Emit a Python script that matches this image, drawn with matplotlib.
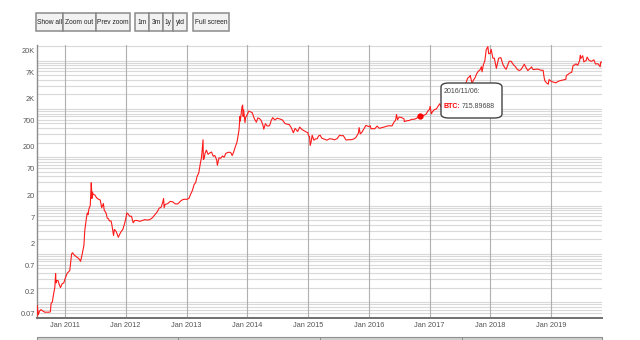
import matplotlib
matplotlib.use("Agg")
import matplotlib.pyplot as plt
from matplotlib.patches import Rectangle, FancyBboxPatch
from matplotlib.text import Annotation
from matplotlib.transforms import ScaledTranslation
import pandas as pd

# BTC close price (USD), sampled dates
dates = [
    "2010-07-17", "2010-07-18", "2010-07-20", "2010-07-25", "2010-08-01", "2010-08-10", "2010-08-20",
    "2010-09-01", "2010-09-15", "2010-09-28", "2010-10-05", "2010-10-10", "2010-10-17", "2010-10-25",
    "2010-11-01", "2010-11-06", "2010-11-08", "2010-11-12", "2010-11-20", "2010-11-28", "2010-12-05",
    "2010-12-15", "2010-12-25",
    "2011-01-01", "2011-01-15", "2011-01-30", "2011-02-05", "2011-02-10", "2011-02-16", "2011-02-25",
    "2011-03-05", "2011-03-15", "2011-03-25", "2011-04-05", "2011-04-15", "2011-04-25", "2011-04-30",
    "2011-05-10", "2011-05-15", "2011-05-20", "2011-05-25", "2011-06-02", "2011-06-08", "2011-06-10",
    "2011-06-12", "2011-06-15", "2011-06-20", "2011-06-30", "2011-07-10", "2011-07-20", "2011-08-01",
    "2011-08-10", "2011-08-20", "2011-08-25", "2011-09-05", "2011-09-12", "2011-09-20", "2011-09-25",
    "2011-10-05", "2011-10-10", "2011-10-20", "2011-10-25", "2011-11-05", "2011-11-18", "2011-11-25",
    "2011-12-05", "2011-12-15", "2011-12-25",
    "2012-01-01", "2012-01-08", "2012-01-15", "2012-01-25", "2012-02-05", "2012-02-15", "2012-02-25",
    "2012-03-10", "2012-03-25", "2012-04-10", "2012-04-25", "2012-05-10", "2012-05-25", "2012-06-10",
    "2012-06-25", "2012-07-10", "2012-07-20", "2012-08-01", "2012-08-10", "2012-08-16", "2012-08-19",
    "2012-08-25", "2012-09-10", "2012-09-25", "2012-10-10", "2012-10-25", "2012-11-10", "2012-11-25",
    "2012-12-10", "2012-12-25",
    "2013-01-01", "2013-01-15", "2013-01-25", "2013-02-05", "2013-02-15", "2013-02-25", "2013-03-05",
    "2013-03-15", "2013-03-25", "2013-04-01", "2013-04-05", "2013-04-10", "2013-04-11", "2013-04-12",
    "2013-04-17", "2013-04-22", "2013-04-30", "2013-05-10", "2013-05-20", "2013-05-31", "2013-06-10",
    "2013-06-20", "2013-07-01", "2013-07-05", "2013-07-15", "2013-07-25", "2013-08-05", "2013-08-15",
    "2013-08-25", "2013-09-05", "2013-09-15", "2013-09-25", "2013-10-02", "2013-10-10", "2013-10-20",
    "2013-10-31", "2013-11-07", "2013-11-12", "2013-11-18", "2013-11-20", "2013-11-25", "2013-11-30",
    "2013-12-04", "2013-12-07", "2013-12-10", "2013-12-18", "2013-12-22", "2013-12-31",
    "2014-01-10", "2014-01-20", "2014-01-31", "2014-02-07", "2014-02-15", "2014-02-25", "2014-03-05",
    "2014-03-15", "2014-03-25", "2014-04-05", "2014-04-10", "2014-04-20", "2014-05-01", "2014-05-15",
    "2014-05-25", "2014-06-03", "2014-06-15", "2014-06-30", "2014-07-15", "2014-07-31", "2014-08-15",
    "2014-08-31", "2014-09-10", "2014-09-22", "2014-10-05", "2014-10-15", "2014-10-31", "2014-11-12",
    "2014-11-25", "2014-12-10", "2014-12-31",
    "2015-01-05", "2015-01-10", "2015-01-14", "2015-01-20", "2015-01-26", "2015-02-05", "2015-02-15",
    "2015-02-25", "2015-03-05", "2015-03-15", "2015-03-25", "2015-04-10", "2015-04-25", "2015-05-10",
    "2015-05-25", "2015-06-10", "2015-06-25", "2015-07-10", "2015-07-20", "2015-08-01", "2015-08-18",
    "2015-08-31", "2015-09-15", "2015-09-30", "2015-10-15", "2015-10-31", "2015-11-04", "2015-11-11",
    "2015-11-20", "2015-12-01", "2015-12-15", "2015-12-31",
    "2016-01-10", "2016-01-15", "2016-01-25", "2016-02-05", "2016-02-20", "2016-03-05", "2016-03-20",
    "2016-04-05", "2016-04-20", "2016-05-05", "2016-05-20", "2016-06-01", "2016-06-10", "2016-06-16",
    "2016-06-22", "2016-07-01", "2016-07-15", "2016-07-31", "2016-08-02", "2016-08-15", "2016-08-31",
    "2016-09-15", "2016-09-30", "2016-10-15", "2016-10-31", "2016-11-06", "2016-11-15", "2016-11-30",
    "2016-12-10", "2016-12-23", "2016-12-31",
    "2017-01-04", "2017-01-11", "2017-01-20", "2017-01-31", "2017-02-10", "2017-02-23", "2017-03-03",
    "2017-03-18", "2017-03-31", "2017-04-15", "2017-04-30", "2017-05-10", "2017-05-25", "2017-05-27",
    "2017-06-12", "2017-06-15", "2017-06-30", "2017-07-16", "2017-07-25", "2017-08-05", "2017-08-17",
    "2017-08-31", "2017-09-02", "2017-09-14", "2017-09-20", "2017-09-30", "2017-10-12", "2017-10-20",
    "2017-10-31", "2017-11-08", "2017-11-12", "2017-11-20", "2017-11-29", "2017-12-07", "2017-12-17",
    "2017-12-22", "2017-12-31",
    "2018-01-06", "2018-01-16", "2018-01-25", "2018-02-06", "2018-02-20", "2018-03-05", "2018-03-18",
    "2018-03-31", "2018-04-06", "2018-04-24", "2018-05-05", "2018-05-20", "2018-05-31", "2018-06-12",
    "2018-06-24", "2018-07-05", "2018-07-24", "2018-08-05", "2018-08-14", "2018-08-31", "2018-09-05",
    "2018-09-15", "2018-09-30", "2018-10-15", "2018-10-31", "2018-11-14", "2018-11-20", "2018-11-25",
    "2018-12-07", "2018-12-15", "2018-12-20", "2018-12-31",
    "2019-01-10", "2019-01-20", "2019-01-31", "2019-02-08", "2019-02-24", "2019-03-10", "2019-03-31",
    "2019-04-02", "2019-04-23", "2019-05-05", "2019-05-14", "2019-05-20", "2019-05-31", "2019-06-10",
    "2019-06-21", "2019-06-26", "2019-06-28", "2019-07-10", "2019-07-17", "2019-07-31", "2019-08-06",
    "2019-08-15", "2019-08-31", "2019-09-15", "2019-09-25", "2019-10-10", "2019-10-23", "2019-10-26",
    "2019-11-03",
]
btc = [
    0.05, 0.086, 0.075, 0.055, 0.065, 0.07, 0.066,
    0.062, 0.062, 0.062, 0.063, 0.095, 0.10, 0.15,
    0.20, 0.39, 0.25, 0.28, 0.28, 0.23, 0.20,
    0.24, 0.25,
    0.30, 0.40, 0.45, 0.70, 1.00, 1.05, 0.95,
    0.90, 0.85, 0.80, 0.70, 1.00, 1.50, 3.0,
    5.5, 7.0, 6.5, 8.5, 10, 29.6, 22,
    14, 19, 17, 16.5, 14.5, 13.6, 13.0,
    9, 11, 8.0, 7.0, 5.5, 5.3, 4.8,
    4.8, 4.0, 2.4, 3.2, 2.9, 2.2, 2.5,
    2.9, 3.2, 4.2,
    5.2, 7.0, 6.7, 6.0, 6.0, 4.4, 4.9,
    4.9, 4.7, 4.9, 5.1, 5.0, 5.1, 5.6,
    6.5, 7.5, 8.8, 9.2, 11.5, 14.0, 9.0,
    10.5, 11.0, 12.2, 11.9, 10.8, 10.8, 12.3,
    13.3, 13.5,
    13.4, 14.0, 17.0, 20.5, 27, 30, 40,
    47, 75, 100, 145, 230, 120, 90,
    95, 120, 140, 115, 122, 128, 105,
    108, 88, 68, 97, 95, 106, 100,
    120, 125, 127, 123, 108, 125, 160,
    205, 290, 360, 700, 560, 800, 1100,
    1200, 700, 950, 520, 660, 755,
    900, 870, 830, 700, 600, 530, 650,
    630, 580, 460, 380, 495, 440, 450,
    580, 660, 590, 640, 620, 590, 500,
    480, 475, 410, 320, 395, 340, 420,
    375, 350, 320,
    275, 270, 175, 210, 285, 225, 240,
    240, 275, 285, 247, 235, 225, 241,
    238, 229, 243, 285, 278, 280, 226,
    230, 230, 236, 254, 315, 410, 305,
    325, 378, 455, 430,
    448, 385, 392, 385, 440, 395, 410,
    423, 441, 448, 443, 536, 577, 766,
    595, 676, 664, 620, 547, 566, 575,
    608, 609, 640, 700, 715.89688, 713, 743,
    774, 920, 964,
    1130, 790, 895, 970, 995, 1170, 1280,
    955, 1080, 1185, 1350, 1750, 2450, 2050,
    2950, 2450, 2480, 1930, 2550, 3220, 4300,
    4700, 4900, 3250, 3900, 4340, 5450, 5990,
    6450, 7450, 5860, 8200, 9900, 16700, 19500,
    13800, 14150,
    17100, 11200, 11200, 6900, 11200, 11500, 8200,
    6900, 6600, 9650, 9700, 8200, 7500, 6550,
    6200, 6550, 8400, 7000, 6200, 7000, 7400,
    6500, 6600, 6650, 6320, 6300, 4500, 3800,
    3400, 3240, 4050, 3750,
    3630, 3540, 3450, 3660, 3830, 3940, 4100,
    4880, 5500, 5750, 8000, 7980, 8550, 7950,
    9900, 12900, 11000, 12600, 9400, 10100, 11800,
    10300, 9600, 10350, 8500, 8600, 7450, 9250,
    9300,
]

highlight_date = "2016-11-06"
highlight_value = 715.89688

ytick_values = [0.07, 0.2, 0.7, 2, 7, 20, 70, 200, 700, 2000, 7000, 20000]
ytick_labels = ["0.07", "0.2", "0.7", "2", "7", "20", "70", "200", "700", "2K", "7K", "20K"]
xtick_years = [2011, 2012, 2013, 2014, 2015, 2016, 2017, 2018, 2019]

button_labels = ["Show all", "Zoom out", "Prev zoom", "1m", "3m", "1y", "ytd", "Full screen"]
button_lefts = [36, 63, 96, 135, 149, 163, 173, 193]
button_widths = [27, 33, 34, 14, 14, 10, 14, 36]

plt.rcParams["font.family"] = ["Liberation Sans", "DejaVu Sans"]

df = pd.DataFrame({"date": pd.to_datetime(dates), "btc": btc})

W, H = 640, 340
fig = plt.figure(figsize=(W / 100, H / 100), dpi=100)
fig.patch.set_facecolor("white")

# plot area, in pixels: x 37..602, y 45..318 from top
ax = fig.add_axes([37 / W, 1 - 318 / H, (602 - 37) / W, (318 - 45) / H])
ax.set_facecolor("white")

ax.set_yscale("log")
ax.set_ylim(0.047, 21000)
ax.set_xlim(pd.Timestamp("2010-07-17"), pd.Timestamp("2019-11-03"))

# log gridlines at every 1..9 x 10^n
grid_vals = [m * 10.0 ** e for e in range(-2, 5) for m in range(1, 10)]
for g in grid_vals:
    if 0.047 < g < 21000:
        ax.axhline(g, color="#d9d9d9", lw=0.8, zorder=1)
for yr in xtick_years:
    ax.axvline(pd.Timestamp(f"{yr}-01-01"), color="#b0b0b0", lw=0.8, zorder=1)

ax.plot(df["date"], df["btc"], color="#ff1a1a", lw=0.8, zorder=3)
ax.plot(pd.Timestamp(highlight_date), highlight_value, "o", color="#ff0000",
        ms=3.5, zorder=4)

ax.yaxis.set_minor_locator(matplotlib.ticker.NullLocator())
ax.set_yticks(ytick_values)
ax.set_yticklabels(ytick_labels)
ax.set_xticks([pd.Timestamp(f"{yr}-01-01") for yr in xtick_years])
ax.set_xticklabels([f"Jan {yr}" for yr in xtick_years])
ax.tick_params(axis="both", length=0, labelsize=5.3, labelcolor="#555555")
ax.tick_params(axis="y", pad=1.5)
ax.tick_params(axis="x", pad=3)
for lbl in ax.get_yticklabels():
    lbl.set_transform(lbl.get_transform() + ScaledTranslation(0, -3 / 72, fig.dpi_scale_trans))

for side in ["top", "right"]:
    ax.spines[side].set_visible(False)
ax.spines["left"].set_color("#8c8c8c")
ax.spines["left"].set_linewidth(1.0)
ax.spines["bottom"].set_color("#707070")
ax.spines["bottom"].set_linewidth(1.4)


def px_rect(x0, y0, w, h, **kw):
    # rectangle in pixel units measured from the top-left corner
    return Rectangle((x0 / W, 1 - (y0 + h) / H), w / W, h / H,
                     transform=fig.transFigure, **kw)


# buttons across the top
for lab, x0, w in zip(button_labels, button_lefts, button_widths):
    fig.patches.append(px_rect(x0, 13.5, w, 17, facecolor="#f2f2f2",
                               edgecolor="#8a8a8a", lw=1.1))
    fig.text((x0 + w / 2) / W, 1 - 22 / H, lab, ha="center", va="center",
             fontsize=4.8, color="#222222")

# tooltip box
tip = FancyBboxPatch((441 / W, 1 - 118 / H), 61 / W, 35 / H,
                     boxstyle="round,pad=0,rounding_size=0.012",
                     transform=fig.transFigure, facecolor="white",
                     edgecolor="#444444", lw=1.0, zorder=5)
fig.patches.append(tip)
fig.text(443.5 / W, 1 - 92 / H, "2016/11/06:", fontsize=5.0, color="#444444",
         va="center", ha="left", zorder=6)
t1 = fig.text(443.5 / W, 1 - 106 / H, "BTC:", fontsize=5.0, color="#ff0000",
              fontweight="bold", va="center", ha="left", zorder=6)
val = Annotation(f"{highlight_value:.5f}", xy=(1, 0.5), xycoords=t1,
                 xytext=(1.2, 0), textcoords="offset points", fontsize=5.0,
                 color="#444444", va="center", ha="left")
val.set_zorder(7)
fig.add_artist(val)

# range selector strip at the bottom edge
fig.patches.append(px_rect(37, 336.5, 565, 4, facecolor="#cfcfcf",
                           edgecolor="#8f8f8f", lw=0.8))
for xd in [178, 320, 462]:
    fig.patches.append(px_rect(xd, 336.5, 0.8, 4, facecolor="#8f8f8f", lw=0))

fig.savefig("out.png", dpi=100)
